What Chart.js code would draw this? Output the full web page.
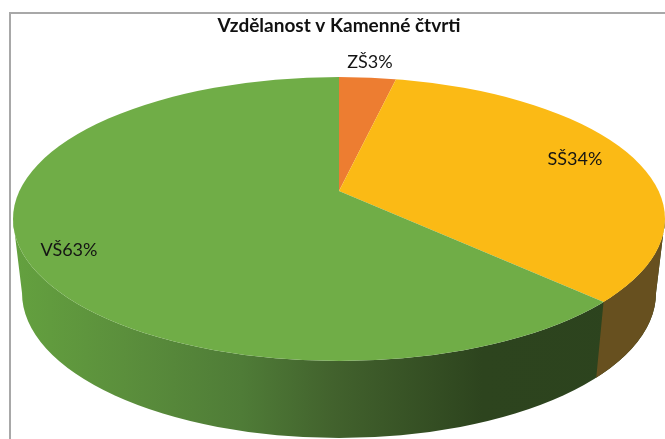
<!DOCTYPE html>
<html>
<head>
<meta charset="utf-8">
<style>html,body{margin:0;padding:0;background:#fff}canvas{display:block}</style>
<script src="https://cdn.jsdelivr.net/npm/chart.js@4"></script>
</head>
<body>
<canvas id="c" width="665" height="439"></canvas>
<script>
const titleText = 'Vzdělanost v Kamenné čtvrti';
const categories = ['ZŠ', 'SŠ', 'VŠ'];
const shares = [3, 34, 63];
const sliceColors = ['#ed7d31', '#fbba15', '#70ad47'];
const labelAnchors = [[370, 62], [575, 159], [69, 250]];

// pseudo-3D projection of the pie
const top3d = {cx: 339, cy: 219, rx: 326, ry: 142};
const base3d = {cx: 339, cy: 293, rx: 317, ry: 145};
const apex = {x: 339, y: 191};
const tilt = 0.385;
const shear = 0.058;

function rim(angle) {
  const dx = Math.cos(angle), dy = tilt * Math.sin(angle) + shear * Math.cos(angle);
  const oy = apex.y - top3d.cy;
  const A = dx * dx / (top3d.rx * top3d.rx) + dy * dy / (top3d.ry * top3d.ry);
  const B = 2 * oy * dy / (top3d.ry * top3d.ry);
  const C = oy * oy / (top3d.ry * top3d.ry) - 1;
  const t = (-B + Math.sqrt(B * B - 4 * A * C)) / (2 * A);
  return {x: apex.x + t * dx, y: apex.y + t * dy};
}
function wallPath(ctx) {
  ctx.beginPath();
  ctx.ellipse(top3d.cx, top3d.cy, top3d.rx, top3d.ry, 0, Math.PI, 0, true);
  ctx.ellipse(base3d.cx, base3d.cy, base3d.rx, base3d.ry, 0, 0, Math.PI, false);
  ctx.closePath();
}
const pie3d = {
  id: 'pie3d',
  beforeDraw(chart) {
    const ctx = chart.ctx;
    ctx.save();
    ctx.strokeStyle = '#a8a8a8';
    ctx.lineWidth = 2;
    ctx.strokeRect(10, 13, 900, 700);
    ctx.restore();
  },
  beforeDatasetsDraw(chart) {
    const ctx = chart.ctx;
    const arcs = chart.getDatasetMeta(0).data;
    const grad = ctx.createLinearGradient(top3d.cx - top3d.rx, 0, top3d.cx + top3d.rx, 0);
    [[0, '#64a13f'], [0.17, '#5b8f3c'], [0.35, '#4f7c37'], [0.49, '#42622d'],
     [0.72, '#2d441e'], [1, '#2c431e']].forEach(s => grad.addColorStop(s[0], s[1]));
    ctx.save();
    wallPath(ctx);
    ctx.fillStyle = grad;
    ctx.fill();
    ctx.restore();

    const p = rim(arcs[1].endAngle);
    const q = {
      x: base3d.cx + (p.x - top3d.cx) * base3d.rx / top3d.rx,
      y: base3d.cy + (p.y - top3d.cy) * base3d.ry / top3d.ry
    };
    ctx.save();
    ctx.beginPath();
    ctx.moveTo(p.x, p.y);
    ctx.lineTo(q.x, q.y);
    ctx.lineTo(q.x, 439);
    ctx.lineTo(665, 439);
    ctx.lineTo(665, p.y - 120);
    ctx.lineTo(p.x, p.y - 120);
    ctx.closePath();
    ctx.clip();
    wallPath(ctx);
    ctx.fillStyle = '#67501f';
    ctx.fill();
    ctx.restore();

    const el = arcs[0];
    const k = 800 / el.outerRadius;
    ctx.save();
    ctx.beginPath();
    ctx.ellipse(top3d.cx, top3d.cy, top3d.rx, top3d.ry, 0, 0, Math.PI * 2);
    ctx.clip();
    ctx.translate(apex.x, apex.y);
    ctx.transform(k, k * shear, 0, k * tilt, 0, 0);
    ctx.translate(-el.x, -el.y);
  },
  afterDatasetsDraw(chart) {
    const ctx = chart.ctx;
    ctx.restore();
    ctx.save();
    ctx.font = '18px Lato';
    ctx.fillStyle = '#141414';
    ctx.textAlign = 'center';
    ctx.textBaseline = 'middle';
    categories.forEach((c, i) => {
      ctx.fillText(c + shares[i] + '%', labelAnchors[i][0], labelAnchors[i][1]);
    });
    ctx.restore();
  }
};
new Chart(document.getElementById('c'), {
  type: 'pie',
  data: {
    labels: categories,
    datasets: [{
      data: shares,
      backgroundColor: sliceColors,
      borderWidth: 0,
      clip: false
    }]
  },
  options: {
    responsive: false,
    animation: false,
    events: [],
    layout: {padding: {left: 13}},
    plugins: {
      legend: {display: false},
      tooltip: {enabled: false},
      title: {
        display: true,
        text: titleText,
        color: '#111',
        font: {family: 'Lato', size: 19, weight: 'bold'},
        padding: {top: 14, bottom: 6}
      }
    }
  },
  plugins: [pie3d]
});
</script>
</body>
</html>
